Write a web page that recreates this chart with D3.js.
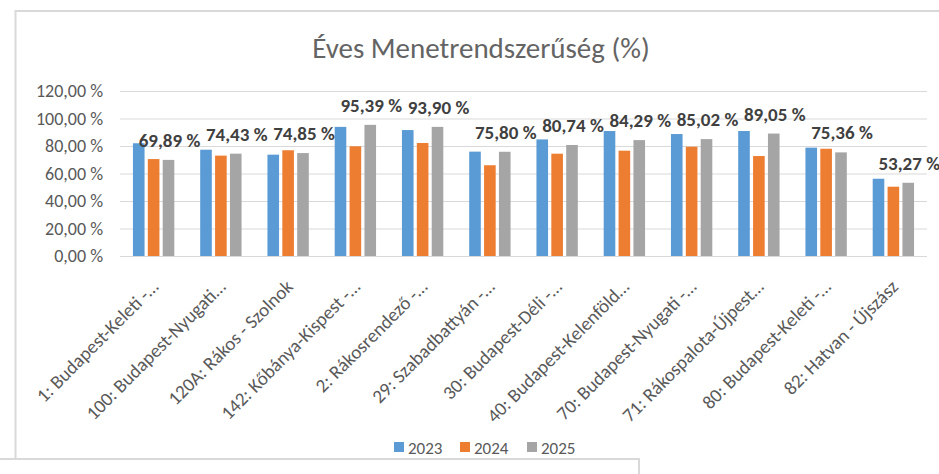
<!DOCTYPE html>
<html>
<head>
<meta charset="utf-8">
<script src="https://cdn.jsdelivr.net/npm/d3@7"></script>
<style>
  html, body { margin: 0; padding: 0; background: #fff; }
  svg { display: block; }
  text { font-family: Carlito, Calibri, Lato, "Open Sans", sans-serif; }
</style>
</head>
<body>
<svg id="chart" width="939" height="474"></svg>
<script>
const categories = [
  "1: Budapest-Keleti -…",
  "100: Budapest-Nyugati…",
  "120A: Rákos - Szolnok",
  "142: Kőbánya-Kispest -…",
  "2: Rákosrendező -…",
  "29: Szabadbattyán -…",
  "30: Budapest-Déli -…",
  "40: Budapest-Kelenföld…",
  "70: Budapest-Nyugati -…",
  "71: Rákospalota-Újpest…",
  "80: Budapest-Keleti -…",
  "82: Hatvan - Újszász"
];
const seriesNames = ["2023", "2024", "2025"];
const values2023 = [82.0, 77.3, 73.7, 93.9, 91.6, 75.9, 84.8, 90.9, 88.7, 90.9, 78.8, 56.2];
const values2024 = [70.5, 73.0, 76.9, 79.8, 82.2, 66.0, 74.4, 76.6, 79.5, 72.7, 78.0, 50.4];
const values2025 = [69.89, 74.43, 74.85, 95.39, 93.90, 75.80, 80.74, 84.29, 85.02, 89.05, 75.36, 53.27];
const yTicks = [0, 20, 40, 60, 80, 100, 120];
const titleText = "Éves Menetrendszerűség (%)";
const colors = ["#5B9BD5", "#ED7D31", "#A5A5A5"];

const series = [values2023, values2024, values2025];
const fmt = v => d3.format(".2f")(v).replace(".", ",") + " %";

const svg = d3.select("#chart");

// frame lines
const frame = svg.append("g").attr("stroke", "#D9D9D9").attr("stroke-width", 2).attr("fill", "none");
frame.append("path").attr("d", "M15.5,458 L15.5,11 L939,11");
frame.append("path").attr("d", "M0,459 L639,459 L639,474");

// title
svg.append("text")
  .attr("x", 481).attr("y", 58)
  .attr("text-anchor", "middle")
  .attr("font-size", 29)
  .attr("font-weight", 300)
  .attr("fill", "#646464")
  .text(titleText);

const x0 = d3.scaleBand().domain(categories).range([120, 927]).paddingInner(0.385).paddingOuter(0.1925);
const x1 = d3.scaleBand().domain(seriesNames).range([0, x0.bandwidth()]).paddingInner(0.22).paddingOuter(0);
const y = d3.scaleLinear().domain([0, 120]).range([256, 91]);

// gridlines
const yAxis = d3.axisLeft(y).tickValues(yTicks).tickSize(-(927 - 120)).tickPadding(17).tickFormat(fmt);
const gy = svg.append("g").attr("transform", "translate(120,0)").call(yAxis);
gy.select(".domain").remove();
gy.selectAll(".tick line").attr("stroke", "#D9D9D9").attr("stroke-width", 1);
gy.selectAll(".tick text").attr("fill", "#595959").attr("font-size", 18).attr("font-family", "Carlito, Calibri, Lato, sans-serif");

// bars
const groups = svg.append("g").selectAll("g").data(categories).join("g")
  .attr("transform", d => `translate(${x0(d)},0)`);
groups.selectAll("rect")
  .data((d, i) => seriesNames.map((s, j) => ({ s, j, v: series[j][i] })))
  .join("rect")
  .attr("x", d => x1(d.s))
  .attr("width", x1.bandwidth())
  .attr("y", d => y(d.v))
  .attr("height", d => y(0) - y(d.v))
  .attr("fill", d => colors[d.j]);

// data labels for 2025
svg.append("g").selectAll("text").data(categories).join("text")
  .attr("x", d => x0(d) + x1("2025") + x1.bandwidth() / 2 + 1)
  .attr("y", (d, i) => y(values2025[i]) - 13)
  .attr("text-anchor", "middle")
  .attr("font-size", 19)
  .attr("font-weight", 700)
  .attr("fill", "#404040")
  .text((d, i) => fmt(values2025[i]));

// x axis
const xAxis = d3.axisBottom(x0).tickSize(0).tickPadding(0);
const gx = svg.append("g").attr("transform", "translate(0,256)").call(xAxis);
gx.select(".domain").remove();
gx.selectAll(".tick text")
  .attr("fill", "#595959")
  .attr("font-size", 19)
  .attr("font-family", "Carlito, Calibri, Lato, sans-serif")
  .attr("text-anchor", "end")
  .attr("dy", 0)
  .attr("transform", "translate(6,32) rotate(-45)");

// legend
const legendItems = [394, 460, 527];
const lg = svg.append("g").selectAll("g").data(seriesNames).join("g")
  .attr("transform", (d, i) => `translate(${legendItems[i]},0)`);
lg.append("rect").attr("x", 0).attr("y", 442).attr("width", 10).attr("height", 10)
  .attr("fill", (d, i) => colors[i]);
lg.append("text").attr("x", 14).attr("y", 454)
  .attr("font-size", 17).attr("fill", "#595959").text(d => d);
</script>
</body>
</html>
